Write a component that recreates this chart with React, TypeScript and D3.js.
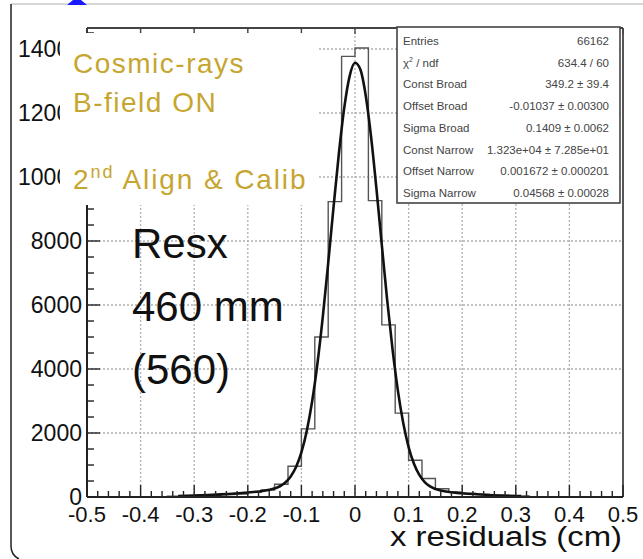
import React from "react";
import * as d3 from "d3";

// Histogram bins (width 0.025 cm), lower edges and counts
const binLow = [-0.35,-0.325,-0.3,-0.275,-0.25,-0.225,-0.2,-0.175,-0.15,-0.125,-0.1,-0.075,-0.05,-0.025,0,0.025,0.05,0.075,0.1,0.125,0.15,0.175,0.2,0.225,0.25,0.275,0.3];
const binCounts = [25,35,45,55,75,95,150,220,400,960,2130,5000,9230,13770,14030,9260,5380,2620,1150,580,260,150,110,80,60,45,30];
const binWidth = 0.025;

// Fit curve
const fitX = [-0.33,-0.3,-0.25,-0.2,-0.18,-0.16,-0.14,-0.13,-0.12,-0.11,-0.1,-0.09,-0.08,-0.07,-0.06,-0.05,-0.04,-0.03,-0.02,-0.01,0,0.01,0.02,0.03,0.04,0.05,0.06,0.07,0.08,0.09,0.1,0.11,0.12,0.13,0.14,0.16,0.18,0.2,0.25,0.3,0.31];
const fitY = [27,42,82,142,174,224,336,451,639,938,1395,2063,2983,4179,5642,7308,9064,10745,12166,13152,13569,13358,12547,11251,9633,7879,6162,4618,3326,2311,1561,1037,689,468,333,201,147,116,63,31,26];

const xTicks = [-0.5,-0.4,-0.3,-0.2,-0.1,0,0.1,0.2,0.3,0.4,0.5];
const xTickLabels = ["-0.5","-0.4","-0.3","-0.2","-0.1","0","0.1","0.2","0.3","0.4","0.5"];
const yTicks = [0,2000,4000,6000,8000,10000,12000,14000];
const yTickLabels = ["0","2000","4000","6000","8000","10000","12000","14000"];

const statLabels = ["Entries","χ2 / ndf","Const Broad","Offset Broad","Sigma Broad","Const Narrow","Offset Narrow","Sigma Narrow"];
const statValues = ["66162","634.4 / 60","349.2 ± 39.4","-0.01037 ± 0.00300","0.1409 ± 0.0062","1.323e+04 ± 7.285e+01","0.001672 ± 0.000201","0.04568 ± 0.00028"];

const infoLines = ["Cosmic-rays","B-field ON"];
const resLines = ["Resx","460 mm","(560)"];

const FONT = "'Liberation Sans', Arial, Helvetica, sans-serif";
const GOLD = "#c6a630";

export default function App() {
  const L = 87, R = 623, T = 28, B = 497;
  const x = d3.scaleLinear().domain([-0.5, 0.5]).range([L, R]);
  const y = d3.scaleLinear().domain([0, 14656]).range([B, T]);

  // histogram step path
  let hp = `M${x(binLow[0])},${y(0)}`;
  binLow.forEach((lo, i) => {
    hp += `L${x(lo)},${y(binCounts[i])}L${x(lo + binWidth)},${y(binCounts[i])}`;
  });
  hp += `L${x(binLow[binLow.length - 1] + binWidth)},${y(0)}`;

  const line = d3.line<number>()
    .x((d, i) => x(fitX[i]))
    .y((d) => y(d))
    .curve(d3.curveMonotoneX);
  const fitPath = line(fitY) || "";

  const xMinor: number[] = [];
  for (let i = 0; i <= 50; i++) xMinor.push(-0.5 + i * 0.02);
  const yMinor: number[] = [];
  for (let v = 0; v <= 14500; v += 500) yMinor.push(v);

  return (
    <svg width={643} height={559} style={{ position: "absolute", left: 0, top: 0, background: "#fff" }} fontFamily={FONT}>
      <rect x={0} y={0} width={643} height={559} fill="#fff" />
      {/* outer frame */}
      <line x1={11} y1={4} x2={643} y2={4} stroke="#b0b0b0" strokeWidth={1.2} />
      <path d="M11,4 L11,546 Q11,555 19,559" fill="none" stroke="#222" strokeWidth={1.5} />
      <path d="M67,5 L87,5 L81,0 L73,0 Z" fill="#1a1aff" />

      {/* grid */}
      {xTicks.slice(1, -1).map((t) => (
        <line key={"gx" + t} x1={x(t)} x2={x(t)} y1={T} y2={B} stroke="#b0b0b0" strokeWidth={1.3} strokeDasharray="2,2" />
      ))}
      {yTicks.slice(1).map((t) => (
        <line key={"gy" + t} x1={L} x2={R} y1={y(t)} y2={y(t)} stroke="#b0b0b0" strokeWidth={1.3} strokeDasharray="2,2" />
      ))}

      {/* histogram and fit */}
      <path d={hp} fill="none" stroke="#555" strokeWidth={1.4} />
      <path d={fitPath} fill="none" stroke="#111" strokeWidth={2.6} />

      {/* frame */}
      <line x1={L} x2={R} y1={T} y2={T} stroke="#444" strokeWidth={1.8} />
      <line x1={R} x2={R} y1={T} y2={B} stroke="#444" strokeWidth={1.8} />
      <line x1={L} x2={R} y1={B} y2={B} stroke="#222" strokeWidth={2} />
      <line x1={L} x2={L} y1={T} y2={B} stroke="#222" strokeWidth={2} />

      {/* x ticks */}
      {xMinor.map((t, i) => (
        <line key={"xm" + i} x1={x(t)} x2={x(t)} y1={B} y2={B - (i % 5 === 0 ? 12 : 6)} stroke="#222" strokeWidth={1.4} />
      ))}
      {xTicks.map((t) => (
        <line key={"xt" + t} x1={x(t)} x2={x(t)} y1={T} y2={T + 6} stroke="#444" strokeWidth={1.4} />
      ))}
      {/* y ticks */}
      {yMinor.map((t, i) => (
        <line key={"ym" + i} x1={L} x2={L + (i % 4 === 0 ? 13 : 7)} y1={y(t)} y2={y(t)} stroke="#222" strokeWidth={1.4} />
      ))}

      {/* tick labels */}
      {xTicks.map((t, i) => (
        <text key={"xl" + t} x={x(t)} y={522} textAnchor="middle" fontSize={22} fill="#111">{xTickLabels[i]}</text>
      ))}
      {yTicks.map((t, i) => (
        <text key={"yl" + t} x={82} y={y(t)} dy="0.35em" textAnchor="end" fontSize={23} fill="#111">{yTickLabels[i]}</text>
      ))}
      <text x={622} y={546} textAnchor="end" fontSize={27} fill="#111" textLength={232} lengthAdjust="spacingAndGlyphs">x residuals (cm)</text>

      {/* white info box */}
      <rect x={60} y={33} width={258} height={172} fill="#fff" />
      {infoLines.map((s, i) => (
        <text key={s} x={73} y={73 + i * 39} fontSize={28} fill={GOLD} letterSpacing={1.5}>{s}</text>
      ))}
      <text x={73} y={189} fontSize={28} fill={GOLD} letterSpacing={1.9}>
        2<tspan fontSize={18} dy={-11}>nd</tspan><tspan dy={11}> Align &amp; Calib</tspan>
      </text>

      {/* big label */}
      {resLines.map((s, i) => (
        <text key={s} x={132} y={258 + i * 63} fontSize={42} fill="#111">{s}</text>
      ))}

      {/* stats box */}
      <rect x={397} y={27} width={223} height={176} fill="#fff" stroke="#444" strokeWidth={1.6} />
      {statLabels.map((s, i) => (
        <text key={s} x={403} y={45 + i * 21.7} fontSize={11.5} fill="#444">
          {i === 1 ? (<>χ<tspan fontSize={7} dy={-5}>2</tspan><tspan dy={5}> / ndf</tspan></>) : s}
        </text>
      ))}
      {statValues.map((s, i) => (
        <text key={"v" + i} x={609} y={45 + i * 21.7} fontSize={11.5} fill="#444" textAnchor="end">{s}</text>
      ))}
    </svg>
  );
}
